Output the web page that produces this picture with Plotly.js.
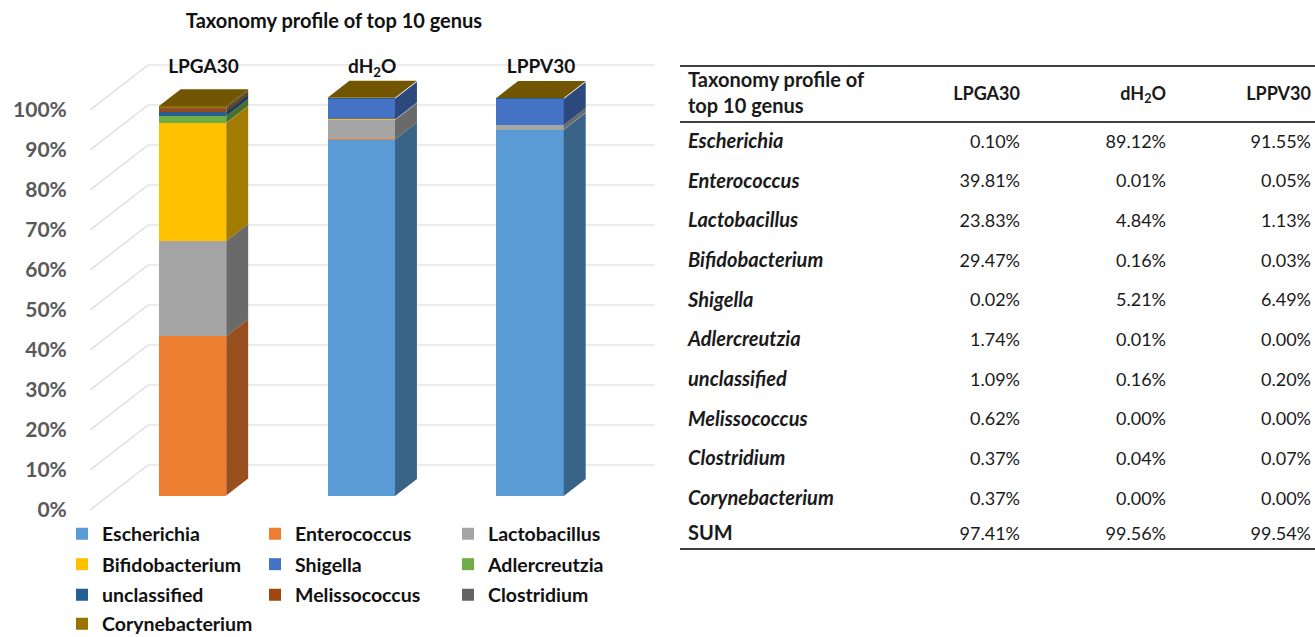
<!DOCTYPE html>
<html><head><meta charset="utf-8">
<script src="https://cdn.plot.ly/plotly-3.0.1.min.js"></script>
<style>html,body{margin:0;padding:0;background:#fff}#chart{width:1315px;height:637px}</style>
</head><body><div id="chart"></div>
<script>
// ---------- data ----------
const categories = ['LPGA30', 'dH<sub>2</sub>O', 'LPPV30'];
const genera = ['Escherichia','Enterococcus','Lactobacillus','Bifidobacterium','Shigella','Adlercreutzia','unclassified','Melissococcus','Clostridium','Corynebacterium'];
const lpga30 = [0.10, 39.81, 23.83, 29.47, 0.02, 1.74, 1.09, 0.62, 0.37, 0.37];
const dh2o   = [89.12, 0.01, 4.84, 0.16, 5.21, 0.01, 0.16, 0.00, 0.04, 0.00];
const lppv30 = [91.55, 0.05, 1.13, 0.03, 6.49, 0.00, 0.20, 0.00, 0.07, 0.00];
const sums   = [97.41, 99.56, 99.54];
const yTicks = [0, 10, 20, 30, 40, 50, 60, 70, 80, 90, 100];
const colors = ['#5B9BD5','#ED7D31','#A5A5A5','#FFC000','#4472C4','#70AD47','#255E91','#9E480E','#636363','#997300'];
const tableTitle = 'Taxonomy profile of<br>top 10 genus';
const sumLabel = 'SUM';

// ---------- layout constants ----------
const W = 1315, H = 637;
const FONT = 'Lato, Calibri, Carlito, sans-serif';
const barW = 0.4;            // bar width in category units
const ddx = 0.13;            // 3D depth in category units
const ddy = 4.25;            // 3D depth in % units
const wallShift = 11.25;     // back-wall offset in % units
const wallXb = 58 / 565;     // where side wall meets back wall (fraction of grid axis)

function shade(hex, f) {
  const n = parseInt(hex.slice(1), 16);
  const r = Math.round(((n >> 16) & 255) * f), g = Math.round(((n >> 8) & 255) * f), b = Math.round((n & 255) * f);
  return 'rgb(' + r + ',' + g + ',' + b + ')';
}
const py = p => 1 - p / H;
const px = p => p / W;

const series = genera.map((g, k) => [lpga30[k], dh2o[k], lppv30[k]]);
const xPos = categories.map((c, i) => i);

const traces = [];

// ---- back wall + side wall gridlines (subplot x/y) ----
const gx = [], gy = [];
yTicks.forEach(v => {
  gx.push(0, wallXb, 1, null);
  gy.push(v, v + wallShift, v + wallShift, null);
});
traces.push({type: 'scatter', mode: 'lines', x: gx, y: gy, xaxis: 'x', yaxis: 'y',
  line: {color: '#D9D9D9', width: 1.2}, hoverinfo: 'skip', showlegend: false});

// ---- front faces: stacked bars (subplot x2/y2) ----
genera.forEach((g, k) => {
  traces.push({type: 'bar', name: g, x: xPos, y: series[k], width: barW,
    xaxis: 'x2', yaxis: 'y2', marker: {color: colors[k], line: {width: 0}},
    legend: k < 3 ? 'legend' : ('legend' + (Math.floor(k / 3) + 1)),
    hoverinfo: 'skip'});
});

// ---- side faces ----
const cum = xPos.map(() => 0);
genera.forEach((g, k) => {
  const xs = [], ys = [];
  xPos.forEach(i => {
    const base = cum[i], top = base + series[k][i];
    const xr = i + barW / 2;
    xs.push(xr, xr + ddx, xr + ddx, xr, xr, null);
    ys.push(base, base + ddy, top + ddy, top, base, null);
    cum[i] = top;
  });
  traces.push({type: 'scatter', mode: 'lines', x: xs, y: ys, xaxis: 'x2', yaxis: 'y2',
    fill: 'toself', fillcolor: shade(colors[k], 0.64), line: {width: 0, color: shade(colors[k], 0.64)},
    hoverinfo: 'skip', showlegend: false});
});

// ---- top faces ----
{
  const xs = [], ys = [];
  xPos.forEach(i => {
    const T = cum[i], xl = i - barW / 2, xr = i + barW / 2;
    xs.push(xl, xl + ddx, xr + ddx, xr, xl, null);
    ys.push(T, T + ddy, T + ddy, T, T, null);
  });
  traces.push({type: 'scatter', mode: 'lines', x: xs, y: ys, xaxis: 'x2', yaxis: 'y2',
    fill: 'toself', fillcolor: shade(colors[colors.length - 1], 0.74),
    line: {width: 0, color: shade(colors[colors.length - 1], 0.74)}, hoverinfo: 'skip', showlegend: false});
}

// ---- table (subplot x3/y3, pixel-like scale) ----
const colX = [688, 1020, 1166, 1311];
const headerY = 95;
const rowY0 = 143, rowStep = 39.67, sumY = 535;
const rowYs = genera.map((g, r) => rowY0 + r * rowStep).concat([sumY]);
const fmt = v => v.toFixed(2) + '%';
const colVals = [lpga30, dh2o, lppv30];
const numFont = {family: FONT, size: 18, color: '#1a1a1a'};
const nameFont = {family: FONT, size: 20, color: '#1a1a1a'};

traces.push({type: 'scatter', mode: 'text', xaxis: 'x3', yaxis: 'y3', hoverinfo: 'skip', showlegend: false,
  x: rowYs.map(() => colX[0]), y: rowYs,
  text: genera.map(g => '<b><i>' + g + '</i></b>').concat(['<b>' + sumLabel + '</b>']),
  textposition: 'middle right', textfont: nameFont, cliponaxis: false});
traces.push({type: 'scatter', mode: 'text', xaxis: 'x3', yaxis: 'y3', hoverinfo: 'skip', showlegend: false,
  x: [colX[0]], y: [headerY], text: ['<b>' + tableTitle + '</b>'],
  textposition: 'middle right', textfont: nameFont, cliponaxis: false});
colVals.forEach((vals, c) => {
  traces.push({type: 'scatter', mode: 'text', xaxis: 'x3', yaxis: 'y3', hoverinfo: 'skip', showlegend: false,
    x: rowYs.map(() => colX[c + 1]), y: rowYs,
    text: vals.map(fmt).concat([fmt(sums[c])]),
    textposition: 'middle left', textfont: numFont, cliponaxis: false});
  traces.push({type: 'scatter', mode: 'text', xaxis: 'x3', yaxis: 'y3', hoverinfo: 'skip', showlegend: false,
    x: [colX[c + 1]], y: [headerY], text: ['<b>' + categories[c] + '</b>'],
    textposition: 'middle left', textfont: numFont, cliponaxis: false});
});

const ruleY = [66, 122, 549];
const shapes = ruleY.map(y => ({type: 'line', xref: 'x3', yref: 'y3', x0: 680, x1: 1315, y0: y, y1: y,
  line: {color: '#404040', width: 2}}));

// ---- layout ----
const legendBase = {orientation: 'h', xanchor: 'left', yanchor: 'middle', x: px(62),
  entrywidth: 148, entrywidthmode: 'pixels', bgcolor: 'rgba(0,0,0,0)', traceorder: 'normal',
  font: {family: FONT, size: 19.5, color: '#111', weight: 'bold'}, itemclick: false, itemdoubleclick: false};

const layout = {
  width: W, height: H,
  margin: {l: 0, r: 0, t: 0, b: 0, autoexpand: false},
  paper_bgcolor: '#fff', plot_bgcolor: 'rgba(0,0,0,0)',
  hovermode: false,
  showlegend: true,
  title: {text: '<b>Taxonomy profile of top 10 genus</b>', x: px(334), xanchor: 'center',
    y: py(21), yanchor: 'middle', font: {family: FONT, size: 20, color: '#111'}},
  xaxis: {domain: [px(90), px(655)], range: [0, 1], visible: false, fixedrange: true},
  yaxis: {domain: [py(520), py(60)], range: [-2.5, 112.5], anchor: 'x', fixedrange: true,
    tickvals: yTicks, ticktext: yTicks.map(v => v + '%'), showgrid: false, zeroline: false, showline: false,
    ticks: 'outside', ticklen: 18, tickcolor: 'rgba(0,0,0,0)',
    tickfont: {family: FONT, size: 21, color: '#595959', weight: 'bold'}},
  xaxis2: {domain: [px(108.1), px(614.4)], range: [-0.5, 2.5], anchor: 'y2', side: 'top', fixedrange: true,
    tickvals: xPos.map(i => i + ddx / 2), ticktext: categories, ticks: '', showgrid: false, zeroline: false,
    showline: false, tickfont: {family: FONT, size: 19, color: '#111', weight: 'bold'}},
  yaxis2: {domain: [py(520), py(78)], range: [-6, 104.5], anchor: 'x2', visible: false, fixedrange: true},
  xaxis3: {domain: [0, 1], range: [0, W], anchor: 'y3', visible: false, fixedrange: true},
  yaxis3: {domain: [0, 1], range: [H, 0], anchor: 'x3', visible: false, fixedrange: true},
  barmode: 'stack',
  shapes: shapes,
  legend: Object.assign({}, legendBase, {y: py(534)}),
  legend2: Object.assign({}, legendBase, {y: py(564.5)}),
  legend3: Object.assign({}, legendBase, {y: py(595)}),
  legend4: Object.assign({}, legendBase, {y: py(624)})
};

Plotly.newPlot('chart', traces, layout, {displayModeBar: false, staticPlot: true});
</script></body></html>
